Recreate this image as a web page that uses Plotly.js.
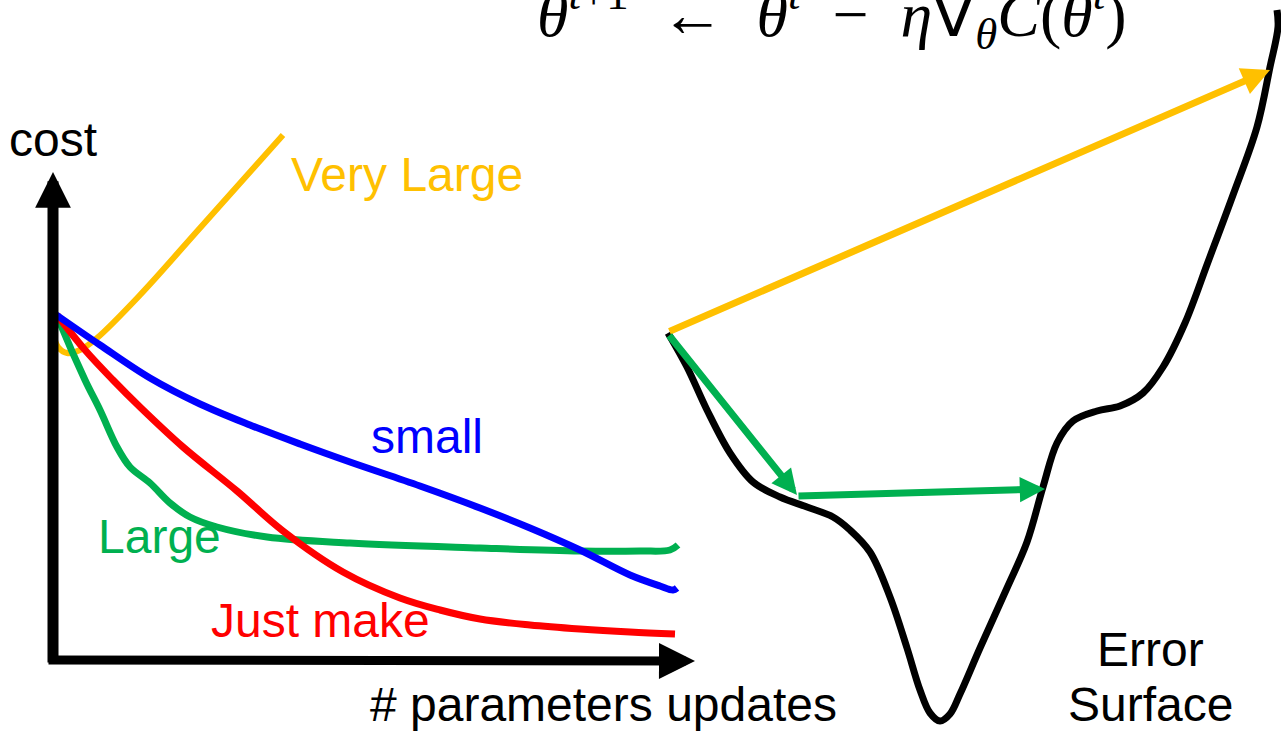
<!DOCTYPE html>
<html>
<head>
<meta charset="utf-8">
<script src="https://cdn.plot.ly/plotly-3.0.1.min.js"></script>
<style>html,body{margin:0;padding:0;background:#fff;}#chart{width:1281px;height:732px;}</style>
</head>
<body>
<div id="chart"></div>
<script>
// Sketch coordinates (x to the right, y downward)
const veryLargeX = [52, 53, 58, 67, 80, 97, 140, 200, 283];
const veryLargeY = [310, 332, 347, 353, 350, 338, 295, 228, 135];

const smallX = [55, 100, 150, 200, 250, 300, 350, 420, 480, 530, 580, 630, 660, 673, 677];
const smallY = [314, 345, 378, 404, 425, 444, 462, 486, 508, 528, 550, 575, 586, 590, 588];

const justX = [57, 85, 113, 140, 183, 237, 283, 343, 400, 440, 480, 530, 580, 630, 675];
const justY = [315, 350, 380, 407, 447, 491, 531, 572, 598, 610, 619, 625, 629, 632, 634];

const largeX = [57, 60, 85, 100, 117, 130, 150, 170, 190, 217, 267, 350, 480, 580, 640, 670, 678];
const largeY = [315, 323, 380, 410, 447, 467, 483, 503, 517, 527, 537, 543, 548, 551, 551, 550, 545];

const surfaceX = [668, 687, 707, 730, 753, 780, 807, 833, 850, 870, 890, 907, 920, 930, 940, 950, 960, 980, 1007, 1027, 1043, 1057, 1073, 1097, 1120, 1143, 1163, 1185, 1208, 1233, 1257, 1270, 1278, 1277];
const surfaceY = [333, 367, 410, 453, 482, 497, 507, 517, 530, 552, 597, 648, 690, 713, 721, 714, 694, 648, 588, 542, 487, 443, 421, 411, 406, 393, 367, 323, 262, 195, 127, 67, 27, 10];

// steps of gradient descent: [tailX, tailY, tipX, tipY]
const yellowStep = [668, 332, 1270, 70];
const greenSteps = [[668, 334, 797, 495], [797, 496, 1045, 489]];

// axis arrows
const costAxis = [53, 664, 53, 172];
const updatesAxis = [47, 660, 695, 661];

const labels = ['cost', 'Very Large', 'small', 'Large', 'Just make', '# parameters updates', 'Error', 'Surface'];
const formula = '<i>θ</i><sup><i>t</i>+1</sup>  ←  <i>θ</i><sup><i>t</i></sup>  −  <i>η</i>∇<sub><i>θ</i></sub><i>C</i>(<i>θ</i><sup><i>t</i></sup>)';

const YEL = '#FFC000', GRN = '#00B050', BLU = '#0000FF', RED = '#FF0000';

function curve(x, y, color, w) {
  return {x: x, y: y, type: 'scatter', mode: 'lines', hoverinfo: 'skip',
    line: {color: color, width: w, shape: 'spline', smoothing: 1}};
}

const traces = [
  curve(veryLargeX, veryLargeY, YEL, 6),
  curve(largeX, largeY, GRN, 7),
  curve(justX, justY, RED, 7),
  curve(smallX, smallY, BLU, 7),
  curve(surfaceX, surfaceY, '#000', 7)
];

function arrow(a, color, w, size) {
  return {x: a[2], y: a[3], ax: a[0], ay: a[1], xref: 'x', yref: 'y', axref: 'x', ayref: 'y',
    text: '', showarrow: true, arrowhead: 2, arrowcolor: color, arrowwidth: w, arrowsize: size, standoff: 0, startstandoff: 0};
}

function label(t, x, y, color, size, family) {
  return {text: t, x: x, y: y, xref: 'x', yref: 'y', xanchor: 'left', yanchor: 'middle', showarrow: false,
    font: {family: family || 'Liberation Sans, Arial, sans-serif', size: size, color: color}, borderpad: 0};
}

const annotations = [
  arrow(costAxis, '#000', 11, 0.65),
  arrow(updatesAxis, '#000', 9, 0.8),
  arrow(yellowStep, YEL, 7, 0.8),
  arrow(greenSteps[0], GRN, 7, 0.72),
  arrow(greenSteps[1], GRN, 7, 0.72),
  label(labels[0], 8, 139, '#000', 48),
  label(labels[1], 290, 174, YEL, 48),
  label(labels[2], 370, 436, BLU, 48),
  label(labels[3], 97, 536, GRN, 48),
  label(labels[4], 210, 620, RED, 48),
  label(labels[5], 369, 704, '#000', 48),
  label(labels[6], 1096, 649, '#000', 48),
  label(labels[7], 1067, 704, '#000', 48),
  label(formula, 536, 14, '#000', 64, 'Liberation Serif, Times New Roman, serif')
];

const layout = {
  width: 1281, height: 732,
  margin: {l: 0, r: 0, t: 0, b: 0},
  paper_bgcolor: '#fff', plot_bgcolor: '#fff',
  showlegend: false,
  xaxis: {range: [0, 1281], visible: false, fixedrange: true},
  yaxis: {range: [732, 0], visible: false, fixedrange: true},
  annotations: annotations
};

Plotly.newPlot('chart', traces, layout, {staticPlot: true, displayModeBar: false});
</script>
</body>
</html>
